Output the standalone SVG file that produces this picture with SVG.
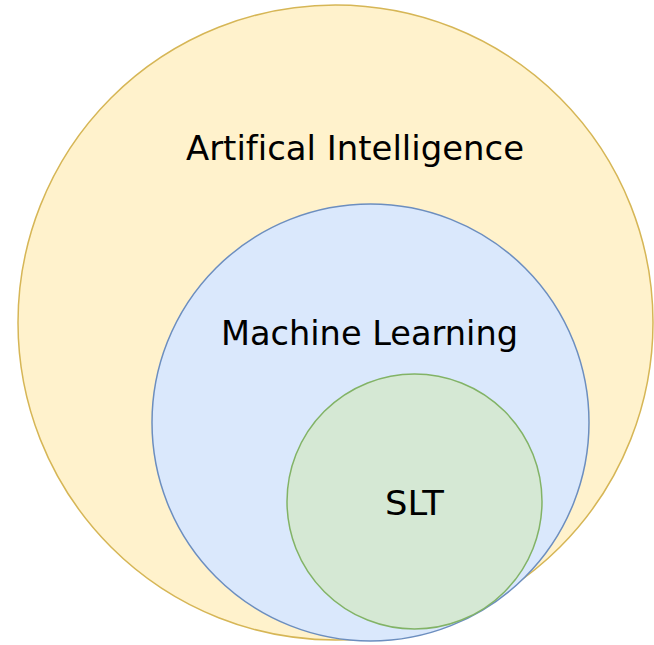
<svg xmlns="http://www.w3.org/2000/svg" width="654" height="645" viewBox="0 0 654 645">
<style>
.lbl{font-family:"DejaVu Sans","Liberation Sans",sans-serif;font-size:33px;fill:#000;font-variant-ligatures:none}
</style>
<rect width="654" height="645" fill="#fff"/>
<g id="ai"><circle cx="335.5" cy="322.5" r="317.5" fill="#fff2cc" stroke="#d6b656" stroke-width="1.5"/>
<text class="lbl" x="186" y="160" textLength="338" lengthAdjust="spacingAndGlyphs">Artifical Intelligence</text></g>
<g id="ml"><circle cx="370.5" cy="422.5" r="218.5" fill="#dae8fc" stroke="#6c8ebf" stroke-width="1.5"/>
<text class="lbl" x="221" y="345" textLength="297" lengthAdjust="spacingAndGlyphs">Machine Learning</text></g>
<g id="slt"><circle cx="414.5" cy="501.5" r="127.5" fill="#d5e8d4" stroke="#82b366" stroke-width="1.5"/>
<text class="lbl" x="385" y="515" textLength="59" lengthAdjust="spacingAndGlyphs">SLT</text></g>
<g id="connectors"/>
</svg>
